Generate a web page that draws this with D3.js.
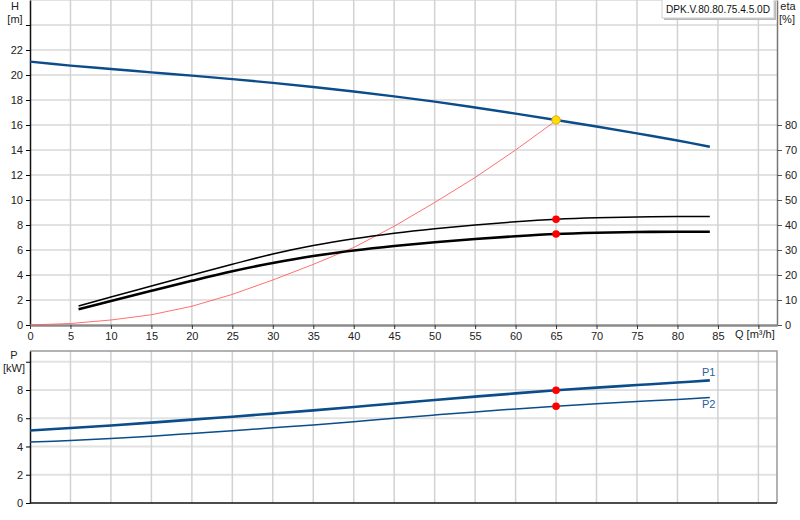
<!DOCTYPE html>
<html>
<head>
<meta charset="utf-8">
<script src="https://cdn.jsdelivr.net/npm/d3@7"></script>
<style>
  body { margin: 0; background: #fff; }
  svg { font-family: "Liberation Sans", Arial, sans-serif; }
</style>
</head>
<body>
<svg id="chart" width="800" height="520"></svg>
<script>
// flow points [m3/h]
var qH = [0, 5, 10, 15, 20, 25, 30, 35, 40, 45, 50, 55, 60, 65, 70, 75, 80, 84];
var head = [21.07, 20.75, 20.48, 20.21, 19.95, 19.67, 19.37, 19.04, 18.68, 18.29, 17.87, 17.4, 16.91, 16.4, 15.88, 15.33, 14.76, 14.26];

var qEta = [6, 10, 15, 20, 25, 30, 35, 40, 45, 50, 55, 60, 65, 70, 75, 80, 84];
var etaThin = [7.6, 11.2, 15.6, 20, 24.3, 28.4, 31.8, 34.5, 36.7, 38.5, 40.0, 41.3, 42.3, 42.9, 43.2, 43.4, 43.4];
var etaThick = [6.3, 9.6, 13.7, 17.7, 21.5, 24.8, 27.6, 29.8, 31.6, 33.1, 34.4, 35.5, 36.4, 36.9, 37.2, 37.3, 37.3];

var qSys = [0, 5, 10, 15, 20, 25, 30, 35, 40, 45, 50, 55, 60, 65];
var hSys = [0, 0.12, 0.4, 0.82, 1.5, 2.45, 3.6, 4.85, 6.2, 7.9, 9.8, 11.8, 14.0, 16.35];

var qP = [0, 5, 10, 15, 20, 25, 30, 35, 40, 45, 50, 55, 60, 65, 70, 75, 80, 84];
var p1 = [5.13, 5.31, 5.49, 5.69, 5.9, 6.11, 6.33, 6.56, 6.8, 7.04, 7.29, 7.53, 7.76, 7.98, 8.17, 8.35, 8.53, 8.68];
var p2 = [4.31, 4.43, 4.57, 4.73, 4.92, 5.12, 5.32, 5.53, 5.76, 6.0, 6.23, 6.45, 6.66, 6.85, 7.02, 7.18, 7.33, 7.46];

// duty point
var dutyQ = 65;
var dutyH = 16.4;
var dutyEta = [42.3, 36.4];
var dutyP = [7.98, 6.85];

var xTicks = d3.range(0, 91, 5);
var hTicks = d3.range(0, 27, 2);
var etaTicks = d3.range(0, 81, 10);
var pTicks = d3.range(0, 11, 2);
var pumpName = "DPK.V.80.80.75.4.5.0D";

var blue = "#0b4c8b";
var fs = 11;

var svg = d3.select("#chart");
svg.append("rect").attr("width", 800).attr("height", 520).attr("fill", "#fff");

var x = d3.scaleLinear().domain([0, 92.3]).range([30, 777]);
var yH = d3.scaleLinear().domain([0, 26]).range([325, 0]);
var yEta = d3.scaleLinear().domain([0, 130]).range([325, 0]);
var yP = d3.scaleLinear().domain([0, 10.76]).range([503, 351]);

// grid
function grid(yScale, ticks, top, bottom) {
    var g = svg.append("g");
    g.selectAll(".hg").data(ticks.filter(function (d) { return d > 0; })).enter()
        .append("line")
        .attr("x1", x(0)).attr("x2", x(92.3))
        .attr("y1", function (d) { return yScale(d); })
        .attr("y2", function (d) { return yScale(d); })
        .attr("stroke", "#e2e2e2").attr("stroke-width", 2);
    g.selectAll(".vg").data(xTicks.filter(function (d) { return d > 0; })).enter()
        .append("line")
        .attr("x1", function (d) { return x(d); })
        .attr("x2", function (d) { return x(d); })
        .attr("y1", top).attr("y2", bottom)
        .attr("stroke", "#d2d2d2").attr("stroke-width", 1.5);
}
grid(yH, hTicks, 0, 325);
grid(yP, pTicks, 351, 503);

// bottom plot frame (top and right)
svg.append("path")
    .attr("d", "M" + x(0) + ",351H" + x(92.3) + "V503")
    .attr("fill", "none").attr("stroke", "#999").attr("stroke-width", 1.5);

// axes
var fmt = function (max) { return function (d) { return d <= max ? d : ""; }; };

var axH = svg.append("g").attr("transform", "translate(" + x(0) + ",0)")
    .call(d3.axisLeft(yH).tickValues(hTicks.filter(function (d) { return d < 26; })).tickSize(4).tickSizeOuter(0).tickFormat(fmt(22)));
var axEta = svg.append("g").attr("transform", "translate(" + x(92.3) + ",0)")
    .call(d3.axisRight(yEta).tickValues(etaTicks).tickSize(5).tickSizeOuter(0));
var axQ = svg.append("g").attr("transform", "translate(0,325)")
    .call(d3.axisBottom(x).tickValues(xTicks).tickSize(4).tickSizeOuter(0).tickFormat(fmt(85)));
var axP = svg.append("g").attr("transform", "translate(" + x(0) + ",0)")
    .call(d3.axisLeft(yP).tickValues(pTicks).tickSize(4).tickSizeOuter(0).tickFormat(fmt(8)));
svg.append("line").attr("x1", x(0)).attr("x2", x(92.3)).attr("y1", 503).attr("y2", 503)
    .attr("stroke", "#111").attr("stroke-width", 1.5);

[axH, axEta, axQ, axP].forEach(function (a) {
    a.selectAll("text").attr("font-size", fs).attr("fill", "#222")
        .attr("font-family", "Liberation Sans, Arial, sans-serif");
});
axH.select(".domain").attr("stroke", "#111").attr("stroke-width", 1.5);
axP.select(".domain").attr("stroke", "#111").attr("stroke-width", 1.5);
axEta.select(".domain").attr("stroke", "#777").attr("stroke-width", 1.5);
axEta.selectAll(".tick line").attr("stroke", "#555");
axEta.selectAll("text").attr("x", 8);
axQ.select(".domain").attr("stroke", "#8a8a8a").attr("stroke-width", 2.5);
axQ.selectAll(".tick line").attr("stroke", "#333");
axQ.selectAll("text").attr("y", 7);
axH.selectAll("text").attr("x", -7);
axP.selectAll("text").attr("x", -7);

// axis titles
function label(t, px, py, anchor) {
    svg.append("text").attr("x", px).attr("y", py).attr("text-anchor", anchor || "middle")
        .attr("font-size", fs).attr("fill", "#222").text(t);
}
label("H", 15, 10);
label("[m]", 15, 23);
label("eta", 788, 10);
label("[%]", 787, 23);
label("P", 14, 359);
label("[kW]", 14, 372);
label("Q [m³/h]", 735, 338, "start");

// curves
var line = function (xs, ys, yScale) {
    return d3.line()
        .x(function (d, i) { return x(xs[i]); })
        .y(function (d) { return yScale(d); })
        .curve(d3.curveCatmullRom.alpha(0.5))(ys);
};

svg.append("path").attr("d", d3.line()
        .x(function (d, i) { return x(qSys[i]); })
        .y(function (d) { return yH(d); })(hSys))
    .attr("fill", "none").attr("stroke", "#ff6060").attr("stroke-width", 0.9);

svg.append("path").attr("d", line(qEta, etaThin, yEta))
    .attr("fill", "none").attr("stroke", "#000").attr("stroke-width", 1.5);
svg.append("path").attr("d", line(qEta, etaThick, yEta))
    .attr("fill", "none").attr("stroke", "#000").attr("stroke-width", 2.6);
svg.append("path").attr("d", line(qH, head, yH))
    .attr("fill", "none").attr("stroke", blue).attr("stroke-width", 2.4);

svg.append("path").attr("d", line(qP, p1, yP))
    .attr("fill", "none").attr("stroke", blue).attr("stroke-width", 2.6);
svg.append("path").attr("d", line(qP, p2, yP))
    .attr("fill", "none").attr("stroke", blue).attr("stroke-width", 1.5);

svg.append("text").attr("x", 702).attr("y", 376).attr("font-size", fs).attr("fill", "#2a5f9a").text("P1");
svg.append("text").attr("x", 702).attr("y", 408).attr("font-size", fs).attr("fill", "#2a5f9a").text("P2");

// duty point markers
dutyEta.forEach(function (e) {
    svg.append("circle").attr("cx", x(dutyQ)).attr("cy", yEta(e)).attr("r", 3.8).attr("fill", "#f00");
});
dutyP.forEach(function (p) {
    svg.append("circle").attr("cx", x(dutyQ)).attr("cy", yP(p)).attr("r", 3.8).attr("fill", "#f00");
});
svg.append("circle").attr("cx", x(dutyQ)).attr("cy", yH(dutyH)).attr("r", 4.2)
    .attr("fill", "#ffe000").attr("stroke", "#f0a020").attr("stroke-width", 1);

// pump name box
var box = svg.append("g");
box.append("rect").attr("x", 664).attr("y", 1).attr("width", 112).attr("height", 19).attr("fill", "#bbb");
box.append("rect").attr("x", 662).attr("y", -1).attr("width", 112).attr("height", 19)
    .attr("fill", "#fff").attr("stroke", "#d0d0d0");
box.append("text").attr("x", 666).attr("y", 13).attr("font-size", fs).attr("fill", "#111")
    .attr("textLength", 104).attr("lengthAdjust", "spacingAndGlyphs").text(pumpName);
</script>
</body>
</html>
